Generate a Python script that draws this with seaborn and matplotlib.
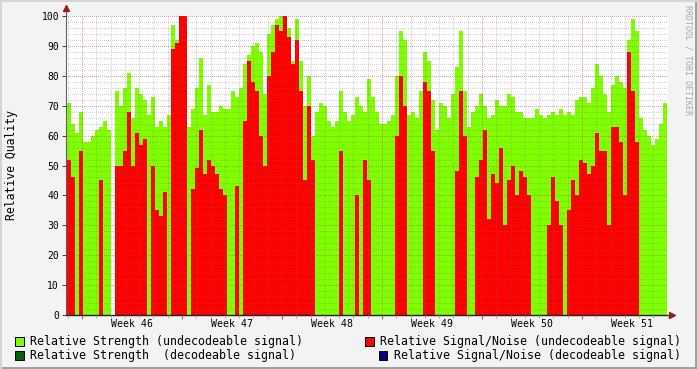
import numpy as np
import pandas as pd
import matplotlib
matplotlib.use("Agg")
import matplotlib.pyplot as plt
from matplotlib.patches import Rectangle
import seaborn as sns

# Relative Strength (undecodeable) - green area, one value per time slot
strength = [71, 64, 61, 68, 58, 58, 60, 62, 63, 65, 62, 0, 75, 70, 76, 81, 66, 76, 74, 72,
            67, 73, 63, 65, 63, 67, 97, 92, 100, 100, 63, 69, 76, 86, 67, 77, 68, 68, 70, 69,
            69, 75, 73, 76, 84, 87, 90, 91, 88, 74, 94, 97, 99, 100, 100, 96, 85, 99, 85, 70,
            80, 60, 68, 71, 70, 65, 63, 65, 75, 68, 65, 67, 73, 70, 68, 79, 73, 68, 64, 64,
            65, 67, 80, 95, 92, 67, 68, 66, 75, 88, 85, 72, 62, 71, 70, 66, 74, 83, 95, 75,
            63, 68, 70, 74, 70, 66, 67, 72, 70, 70, 74, 73, 68, 68, 66, 66, 66, 69, 67, 66,
            67, 68, 67, 69, 67, 68, 67, 72, 73, 73, 71, 76, 84, 80, 74, 68, 77, 80, 78, 76,
            92, 99, 95, 66, 62, 60, 57, 59, 64, 71]

# Relative Signal/Noise (undecodeable) - red area
snr = [52, 46, 0, 55, 0, 0, 0, 0, 45, 0, 0, 0, 50, 50, 55, 68, 50, 61, 57, 59,
       0, 50, 35, 33, 41, 0, 89, 91, 100, 100, 0, 42, 49, 62, 47, 52, 50, 47, 42, 40,
       0, 0, 43, 0, 65, 85, 78, 75, 60, 50, 80, 88, 97, 95, 100, 93, 84, 92, 75, 45,
       70, 52, 0, 0, 0, 0, 0, 0, 55, 0, 0, 0, 40, 0, 52, 45, 0, 0, 0, 0,
       0, 0, 60, 80, 70, 0, 0, 0, 0, 78, 75, 55, 0, 0, 0, 0, 0, 48, 75, 60,
       0, 0, 46, 52, 62, 32, 47, 44, 56, 30, 45, 50, 40, 48, 46, 40, 0, 0, 0, 0,
       30, 46, 38, 30, 0, 35, 45, 40, 52, 51, 47, 50, 61, 55, 55, 30, 63, 63, 58, 40,
       88, 75, 58, 0, 0, 0, 0, 0, 0, 0]

week_labels = ["Week 46", "Week 47", "Week 48", "Week 49", "Week 50", "Week 51"]
week_centers = [3.5, 10.5, 17.5, 24.5, 31.5, 38.5]
y_ticks = [0, 10, 20, 30, 40, 50, 60, 70, 80, 90, 100]

legend_items = [
    ("Relative Strength (undecodeable signal)", "#80ff00"),
    ("Relative Strength  (decodeable signal)", "#006400"),
    ("Relative Signal/Noise (undecodeable signal)", "#ff0000"),
    ("Relative Signal/Noise (decodeable signal)", "#000080"),
]

sns.set_theme(style="white")
plt.rcParams['font.family'] = ['DejaVu Sans Mono']

W, H = 697, 369
fig = plt.figure(figsize=(W / 100, H / 100), dpi=100, facecolor="#f3f3f3")


def fx(px):
    return px / W


def fy(py):
    return 1 - py / H


ax = fig.add_axes([fx(66), fy(315), (668 - 66) / W, (315 - 16) / H])
ax.set_facecolor("white")

start, step = -1.05, 0.28
n = len(strength)
t = start + step * (np.arange(n) + 0.5)
df = pd.DataFrame({"t": t, "strength": strength, "snr": snr})

sns.histplot(data=df, x="t", weights="strength", binwidth=step, binrange=(start, start + n * step - 1e-6),
             element="step", fill=True, color="#80ff00", alpha=1, linewidth=0, ax=ax)
sns.histplot(data=df, x="t", weights="snr", binwidth=step, binrange=(start, start + n * step - 1e-6),
             element="step", fill=True, color="#ff0000", alpha=1, linewidth=0, ax=ax)

ax.set_xlim(-1.12, 41.02)
ax.set_ylim(0, 100)
ax.set_xlabel("")
ax.set_ylabel("")

ax.set_xticks(np.arange(0, 42, 7))
ax.set_xticks(np.arange(-1, 42, 1), minor=True)
ax.set_xticklabels([])
ax.set_yticks(y_ticks)
ax.set_yticklabels([str(v) for v in y_ticks])
ax.set_yticks(np.arange(0, 101, 2), minor=True)

ax.set_axisbelow(False)
ax.grid(which="minor", color=(0.45, 0.45, 0.45), alpha=0.3, linestyle=(0, (1, 2)),
        linewidth=0.72, antialiased=False)
ax.grid(which="major", color=(0.75, 0.2, 0.2), alpha=0.45, linestyle=(0, (1, 2)),
        linewidth=0.72, antialiased=False)

ax.tick_params(axis="x", which="major", length=3, width=0.8, color="#c05050", direction="out", bottom=True)
ax.tick_params(axis="x", which="minor", length=2, width=0.6, color="#a0a0a0", direction="out", bottom=True)
ax.tick_params(axis="y", which="major", length=3, width=0.7, color="#404040", direction="out",
               left=True, labelsize=7, pad=2, labelcolor="#000000")
ax.tick_params(axis="y", which="minor", length=0)

for s in ["top", "right"]:
    ax.spines[s].set_visible(False)
ax.spines["left"].set_color("#606060")
ax.spines["left"].set_linewidth(0.8)
ax.spines["bottom"].set_color("#202030")
ax.spines["bottom"].set_linewidth(1.0)

for lab, xc in zip(week_labels, week_centers):
    ax.text(xc, -0.03, lab, transform=ax.get_xaxis_transform(), ha="center", va="center",
            fontsize=7.1, color="#000000")

# axis arrows
ax.plot([0, 0], [1, 1.025], transform=ax.transAxes, color="#606060", lw=0.8, clip_on=False)
ax.plot([0], [1.027], marker="^", ms=4.5, color="#9b1c1c", transform=ax.transAxes, clip_on=False)
ax.plot([1.007], [0], marker=">", ms=4.5, color="#9b1c1c", transform=ax.transAxes, clip_on=False)

fig.text(fx(12), fy(165), "Relative Quality", rotation=90, ha="center", va="center",
         fontsize=8.3, color="#000000")
fig.text(fx(688), fy(60), "RRDTOOL / TOBI OETIKER", rotation=270, ha="center", va="center",
         fontsize=6, color="#a8a8a8")

# legend
legend_pos = [(15, 341.5, 30), (15, 355.5, 30), (365, 341.5, 380), (379, 355.5, 394)]
for (label, color), (bx, cy, tx) in zip(legend_items, legend_pos):
    fig.add_artist(Rectangle((fx(bx), fy(cy + 4)), 8.5 / W, 8.5 / H, transform=fig.transFigure,
                             facecolor=color, edgecolor="black", linewidth=0.7))
    fig.text(fx(tx), fy(cy), label, ha="left", va="center", fontsize=8.35, color="#000000")

# 3D border
fig.add_artist(Rectangle((0, 0), 1, 2.5 / H, transform=fig.transFigure, facecolor="#a0a0a0", edgecolor="none"))
fig.add_artist(Rectangle((1 - 2.5 / W, 0), 2.5 / W, 1, transform=fig.transFigure, facecolor="#a0a0a0", edgecolor="none"))
fig.add_artist(Rectangle((0, 1 - 2 / H), 1, 2 / H, transform=fig.transFigure, facecolor="#d4d4d4", edgecolor="none"))
fig.add_artist(Rectangle((0, 0), 2 / W, 1, transform=fig.transFigure, facecolor="#d4d4d4", edgecolor="none"))

fig.savefig("out.png", dpi=100, facecolor=fig.get_facecolor())
